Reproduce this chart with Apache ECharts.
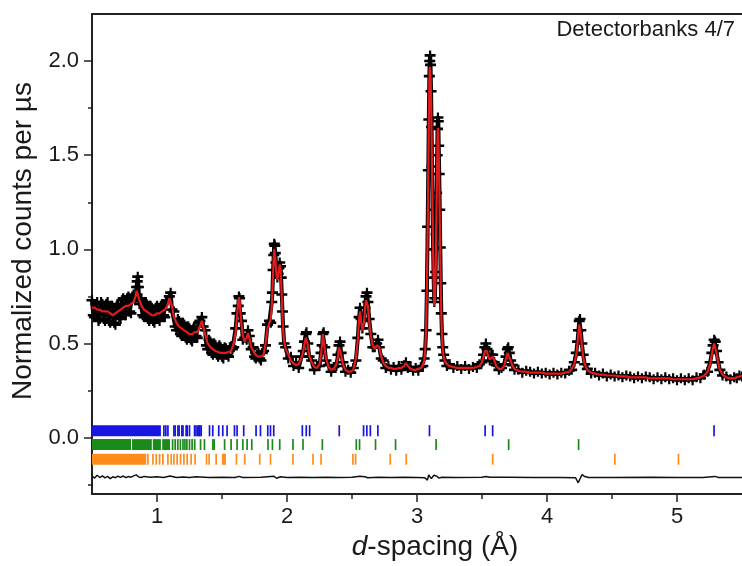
<!DOCTYPE html>
<html><head><meta charset="utf-8">
<script src="https://cdn.jsdelivr.net/npm/echarts@6/dist/echarts.min.js"></script>
<style>html,body{margin:0;padding:0;background:#fff}#c{width:742px;height:566px}</style>
</head><body><div id="c"></div><script>
// ---- data ----
const dSpacing = [0.50,0.52,0.54,0.56,0.58,0.60,0.62,0.64,0.66,0.68,
0.70,0.72,0.74,0.76,0.78,0.80,0.82,0.835,0.843,0.848,
0.852,0.857,0.865,0.88,0.90,0.92,0.94,0.96,0.98,1.00,
1.02,1.04,1.06,1.08,1.095,1.105,1.115,1.13,1.15,1.17,
1.19,1.21,1.23,1.25,1.27,1.29,1.31,1.33,1.345,1.355,
1.37,1.39,1.41,1.43,1.45,1.47,1.49,1.51,1.53,1.55,
1.57,1.59,1.605,1.615,1.625,1.630,1.635,1.64,1.65,1.66,
1.675,1.69,1.70,1.71,1.725,1.74,1.76,1.78,1.80,1.82,
1.835,1.85,1.865,1.875,1.883,1.888,1.893,1.898,1.902,1.906,
1.910,1.915,1.920,1.926,1.932,1.938,1.944,1.950,1.955,1.960,
1.965,1.970,1.978,1.99,2.01,2.03,2.05,2.07,2.09,2.11,
2.125,2.135,2.145,2.150,2.16,2.17,2.19,2.21,2.23,2.25,
2.262,2.27,2.276,2.282,2.29,2.30,2.32,2.34,2.36,2.38,
2.392,2.400,2.408,2.416,2.43,2.45,2.47,2.49,2.51,2.53,
2.545,2.555,2.562,2.570,2.580,2.592,2.600,2.608,2.615,2.622,
2.632,2.645,2.66,2.675,2.69,2.70,2.71,2.725,2.74,2.76,
2.78,2.80,2.82,2.84,2.86,2.88,2.90,2.915,2.93,2.95,
2.97,2.99,3.01,3.03,3.045,3.055,3.063,3.070,3.076,3.082,
3.087,3.091,3.095,3.098,3.101,3.104,3.108,3.112,3.116,3.120,
3.124,3.128,3.133,3.138,3.143,3.147,3.151,3.155,3.158,3.161,
3.164,3.167,3.171,3.175,3.179,3.183,3.187,3.192,3.198,3.205,
3.215,3.23,3.25,3.28,3.31,3.34,3.37,3.40,3.43,3.46,
3.48,3.50,3.512,3.522,3.530,3.538,3.548,3.56,3.572,3.582,
3.594,3.61,3.63,3.65,3.67,3.685,3.695,3.702,3.71,3.72,
3.735,3.75,3.78,3.81,3.84,3.87,3.90,3.93,3.96,3.99,
4.02,4.05,4.08,4.11,4.14,4.17,4.19,4.21,4.225,4.235,
4.242,4.248,4.254,4.260,4.268,4.278,4.29,4.31,4.34,4.37,
4.40,4.43,4.46,4.49,4.52,4.55,4.58,4.61,4.64,4.67,
4.70,4.73,4.76,4.79,4.82,4.85,4.88,4.91,4.94,4.97,
5.00,5.03,5.06,5.09,5.12,5.15,5.18,5.21,5.235,5.255,
5.268,5.278,5.286,5.294,5.304,5.316,5.33,5.35,5.38,5.41,
5.44,5.46,5.48,5.50];

const calculated = [0.69,0.69,0.68,0.68,0.67,0.67,0.67,0.66,0.65,0.66,
0.67,0.68,0.69,0.70,0.70,0.71,0.72,0.75,0.78,0.79,
0.79,0.77,0.73,0.70,0.68,0.67,0.66,0.65,0.65,0.66,
0.66,0.67,0.68,0.70,0.74,0.74,0.70,0.64,0.61,0.59,
0.58,0.57,0.56,0.55,0.55,0.56,0.56,0.59,0.62,0.61,
0.55,0.50,0.48,0.47,0.46,0.455,0.45,0.45,0.45,0.455,
0.46,0.50,0.56,0.64,0.72,0.745,0.73,0.68,0.60,0.54,
0.51,0.53,0.555,0.53,0.48,0.46,0.44,0.43,0.43,0.44,
0.50,0.58,0.61,0.63,0.70,0.78,0.87,0.96,1.00,0.99,
0.95,0.90,0.86,0.84,0.85,0.89,0.92,0.90,0.83,0.74,
0.65,0.57,0.51,0.47,0.44,0.41,0.395,0.385,0.39,0.42,
0.46,0.50,0.53,0.53,0.49,0.44,0.40,0.375,0.37,0.39,
0.44,0.50,0.55,0.54,0.47,0.42,0.375,0.36,0.365,0.39,
0.43,0.48,0.48,0.44,0.39,0.36,0.35,0.35,0.36,0.42,
0.52,0.63,0.67,0.62,0.57,0.61,0.68,0.73,0.74,0.70,
0.62,0.54,0.49,0.47,0.49,0.50,0.48,0.43,0.40,0.38,
0.37,0.37,0.365,0.365,0.37,0.37,0.38,0.395,0.38,0.365,
0.36,0.36,0.365,0.37,0.385,0.41,0.46,0.58,0.80,1.10,
1.40,1.66,1.88,1.97,1.98,1.92,1.80,1.62,1.40,1.18,
0.98,0.82,0.70,0.72,0.86,1.05,1.27,1.47,1.60,1.645,
1.62,1.52,1.36,1.18,0.98,0.80,0.65,0.54,0.47,0.43,
0.405,0.39,0.38,0.375,0.37,0.37,0.37,0.37,0.37,0.375,
0.38,0.40,0.43,0.46,0.47,0.46,0.43,0.415,0.425,0.43,
0.41,0.38,0.365,0.365,0.38,0.42,0.45,0.455,0.44,0.41,
0.38,0.365,0.355,0.35,0.35,0.345,0.345,0.345,0.345,0.34,
0.34,0.34,0.34,0.34,0.345,0.35,0.365,0.39,0.44,0.50,
0.56,0.60,0.59,0.55,0.49,0.43,0.39,0.36,0.345,0.34,
0.335,0.335,0.33,0.33,0.33,0.325,0.325,0.325,0.32,0.32,
0.32,0.32,0.32,0.315,0.315,0.315,0.315,0.315,0.315,0.31,
0.31,0.31,0.31,0.31,0.31,0.315,0.32,0.33,0.35,0.39,
0.44,0.48,0.50,0.49,0.45,0.40,0.36,0.335,0.32,0.315,
0.315,0.32,0.325,0.33];

const observed = [0.73,0.64,0.72,0.63,0.71,0.62,0.72,0.61,0.69,0.60,
0.71,0.63,0.74,0.65,0.75,0.66,0.76,0.73,0.80,0.83,
0.855,0.80,0.71,0.74,0.64,0.71,0.62,0.69,0.61,0.70,
0.62,0.71,0.64,0.73,0.75,0.77,0.68,0.67,0.57,0.62,
0.54,0.60,0.52,0.58,0.51,0.59,0.53,0.62,0.64,0.59,
0.57,0.47,0.51,0.44,0.49,0.43,0.48,0.42,0.475,0.43,
0.485,0.48,0.58,0.66,0.70,0.75,0.74,0.66,0.62,0.52,
0.53,0.52,0.57,0.54,0.47,0.48,0.42,0.45,0.41,0.46,
0.49,0.60,0.62,0.61,0.72,0.77,0.89,0.97,1.03,1.02,
0.98,0.93,0.88,0.85,0.87,0.90,0.93,0.91,0.85,0.76,
0.67,0.59,0.50,0.48,0.42,0.43,0.38,0.40,0.37,0.43,
0.46,0.51,0.55,0.56,0.50,0.43,0.41,0.36,0.38,0.38,
0.45,0.49,0.55,0.56,0.48,0.41,0.385,0.35,0.375,0.38,
0.44,0.49,0.51,0.45,0.40,0.35,0.36,0.345,0.37,0.41,
0.53,0.64,0.69,0.63,0.58,0.62,0.69,0.75,0.77,0.72,
0.63,0.55,0.48,0.48,0.50,0.52,0.48,0.42,0.41,0.37,
0.38,0.36,0.375,0.355,0.38,0.36,0.385,0.40,0.37,0.375,
0.355,0.37,0.355,0.375,0.38,0.42,0.47,0.57,0.78,1.12,
1.42,1.69,1.92,2.00,2.03,1.98,1.84,1.65,1.44,1.21,
1.00,0.85,0.72,0.74,0.88,1.08,1.30,1.50,1.64,1.70,
1.68,1.55,1.40,1.21,1.01,0.82,0.66,0.55,0.48,0.44,
0.41,0.38,0.39,0.37,0.38,0.365,0.38,0.365,0.375,0.37,
0.39,0.40,0.44,0.48,0.50,0.47,0.44,0.41,0.44,0.44,
0.40,0.385,0.36,0.37,0.39,0.43,0.47,0.48,0.45,0.41,
0.385,0.36,0.36,0.345,0.355,0.35,0.34,0.35,0.34,0.345,
0.335,0.345,0.335,0.345,0.34,0.355,0.36,0.40,0.45,0.51,
0.57,0.62,0.63,0.57,0.50,0.44,0.39,0.365,0.34,0.345,
0.33,0.34,0.325,0.335,0.325,0.33,0.32,0.33,0.325,0.315,
0.325,0.315,0.325,0.32,0.31,0.32,0.31,0.32,0.31,0.315,
0.305,0.315,0.305,0.315,0.305,0.32,0.315,0.335,0.35,0.40,
0.45,0.49,0.52,0.51,0.46,0.40,0.36,0.33,0.325,0.31,
0.32,0.315,0.33,0.325];

// further observed points in the noisy low-d part
const observedExtraD = [0.51,0.53,0.55,0.57,0.59,0.61,0.63,0.65,0.67,0.69,
0.71,0.73,0.75,0.77,0.79,0.81,0.87,0.89,0.91,0.93,
0.95,0.97,0.99,1.01,1.03,1.05,1.07,1.14,1.16,1.18,
1.20,1.22,1.24,1.26,1.28,1.30,1.32,1.38,1.40,1.42,
1.44,1.46,1.48,1.50,1.52,1.54,1.56,1.58,1.75,1.77,
1.79,1.81];
const observedExtra = [0.65,0.71,0.62,0.72,0.63,0.71,0.62,0.70,0.61,0.70,
0.64,0.73,0.66,0.74,0.67,0.75,0.73,0.65,0.72,0.63,
0.70,0.62,0.69,0.63,0.70,0.65,0.72,0.59,0.63,0.55,
0.61,0.53,0.59,0.52,0.58,0.54,0.61,0.49,0.52,0.45,
0.50,0.44,0.49,0.43,0.48,0.44,0.48,0.47,0.43,0.44,
0.42,0.45];

// difference curve (plotted with its offset, as in the figure)
const diffD = [0.50,0.52,0.54,0.56,0.58,0.60,0.62,0.64,0.66,0.68,0.70,0.72,0.74,0.76,0.78,0.80,0.82,0.84,0.86,0.88,0.90,0.95,1.00,1.05,1.10,1.15,1.20,1.25,1.30,1.40,1.50,1.60,1.63,1.66,1.80,1.90,1.92,1.95,2.00,2.10,2.20,2.30,2.40,2.50,2.56,2.60,2.62,2.70,2.80,2.90,3.00,3.06,3.08,3.09,3.11,3.13,3.15,3.17,3.19,3.30,3.50,3.53,3.56,3.70,3.90,4.10,4.22,4.24,4.25,4.27,4.29,4.32,4.50,4.80,5.00,5.20,5.29,5.32,5.50];
const diffV = [-0.205,-0.215,-0.200,-0.212,-0.203,-0.214,-0.206,-0.218,-0.208,-0.213,-0.205,-0.211,-0.204,-0.212,-0.207,-0.210,-0.203,-0.198,-0.209,-0.212,-0.206,-0.211,-0.208,-0.212,-0.204,-0.212,-0.209,-0.212,-0.208,-0.212,-0.210,-0.212,-0.206,-0.212,-0.211,-0.205,-0.216,-0.208,-0.212,-0.211,-0.212,-0.211,-0.212,-0.210,-0.205,-0.208,-0.213,-0.211,-0.212,-0.211,-0.212,-0.213,-0.226,-0.198,-0.218,-0.200,-0.204,-0.215,-0.211,-0.212,-0.211,-0.206,-0.211,-0.210,-0.212,-0.212,-0.213,-0.240,-0.225,-0.196,-0.207,-0.212,-0.212,-0.211,-0.212,-0.212,-0.206,-0.212,-0.212];

// reflection positions (three phases)
const phase1Bands = [[0.5, 1.03]];
const phase1Ticks = [1.053,1.068,1.084,1.130,1.140,1.161,1.170,1.191,1.200,1.224,1.232,1.250,1.289,1.300,1.314,1.322,1.330,1.340,1.404,1.429,1.475,1.506,1.539,1.596,1.616,1.667,1.762,1.796,1.852,1.873,1.898,2.118,2.148,2.174,2.402,2.589,2.614,2.641,2.699,3.096,3.524,3.582,5.285];
const phase2Bands = [[0.5, 0.80],[0.808, 0.96],[0.968, 1.03],[1.04, 1.10]];
const phase2Ticks = [1.12,1.14,1.16,1.18,1.20,1.215,1.23,1.25,1.27,1.29,1.335,1.365,1.43,1.44,1.52,1.57,1.616,1.66,1.693,1.729,1.854,1.888,1.944,2.046,2.123,2.272,2.533,2.558,2.681,2.835,3.147,3.705,4.243];
const phase3Bands = [[0.5, 0.917]];
const phase3Ticks = [0.930,0.969,0.994,1.020,1.045,1.084,1.109,1.130,1.155,1.181,1.207,1.232,1.263,1.293,1.381,1.401,1.455,1.506,1.515,1.524,1.611,1.675,1.790,1.873,2.046,2.200,2.262,2.507,2.528,2.794,2.917,3.582,4.522,5.011];
const phaseRows = [[0.066, 0.007], [-0.008, -0.066], [-0.086, -0.144]];

const xMajor = [1, 2, 3, 4, 5];
const xMinor = [1.5, 2.5, 3.5, 4.5];
const yMajor = [0, 0.5, 1.0, 1.5, 2.0];
const yMinor = [-0.25, 0.25, 0.75, 1.25, 1.75];

// ---- chart ----
const FONT = '"Liberation Sans", Arial, Helvetica, sans-serif';
const INK = '#1a1a1a';
const chart = echarts.init(document.getElementById('c'), null, {renderer: 'canvas'});
const n = Math.min(dSpacing.length, observed.length, calculated.length);
const obsData = [], calcData = [];
for (let i = 0; i < n; i++) { obsData.push([dSpacing[i], observed[i]]); calcData.push([dSpacing[i], calculated[i]]); }
for (let i = 0; i < Math.min(observedExtraD.length, observedExtra.length); i++) obsData.push([observedExtraD[i], observedExtra[i]]);
obsData.sort((a, b) => a[0] - b[0]);
const diffData = diffD.map((d, i) => [d, diffV[i]]);
const CROSS = 'path://M0,3.7H10V6.3H0Z M4,0H6V10H4Z';

function reflectionSeries(bands, ticks, row, color) {
  const top = row[0], bottom = row[1];
  const data = bands.map(b => [b[0], b[1], top]).concat(ticks.map(t => [t, t, top]));
  return {
    type: 'custom', silent: true, clip: true, z: 4, data,
    encode: {x: [0, 1], y: 2},
    renderItem: (params, api) => {
      const a = api.coord([api.value(0), top]);
      const b = api.coord([api.value(1), bottom]);
      let x = a[0], w = b[0] - a[0];
      if (w < 1.7) { x = a[0] - 0.85; w = 1.7; }
      return {type: 'rect', shape: {x, y: a[1], width: w, height: b[1] - a[1]}, style: {fill: color}};
    }
  };
}

const axisLineStyle = {color: '#222', width: 2};
const tickStyle = {color: '#222', width: 1.5};

chart.setOption({
  animation: false,
  backgroundColor: '#fff',
  grid: {left: 92, top: 14, width: 651, height: 484, containLabel: false},
  xAxis: [
    {type: 'value', min: 0.5, max: 5.5, position: 'bottom',
     axisLine: {show: true, onZero: false, lineStyle: axisLineStyle},
     axisTick: {show: true, length: 8, customValues: xMajor, lineStyle: tickStyle},
     axisLabel: {customValues: xMajor, formatter: v => String(v), fontSize: 22, color: INK, fontFamily: FONT, margin: 12},
     splitLine: {show: false},
     name: '{i|d}-spacing (Å)', nameLocation: 'middle', nameGap: 36,
     nameTextStyle: {fontSize: 28, color: INK, fontFamily: FONT, padding: [0, 0, 0, 36],
       rich: {i: {fontStyle: 'italic', fontSize: 28, color: INK, fontFamily: FONT}}}},
    {type: 'value', min: 0.5, max: 5.5, position: 'bottom',
     axisLine: {show: false, onZero: false}, axisTick: {show: true, length: 5, customValues: xMinor, lineStyle: tickStyle},
     axisLabel: {show: false}, splitLine: {show: false}},
    {type: 'value', min: 0.5, max: 5.5, position: 'top',
     axisLine: {show: true, onZero: false, lineStyle: axisLineStyle}, axisTick: {show: false},
     axisLabel: {show: false}, splitLine: {show: false}}
  ],
  yAxis: [
    {type: 'value', min: -0.3, max: 2.25, position: 'left',
     axisLine: {show: true, onZero: false, lineStyle: axisLineStyle},
     axisTick: {show: true, length: 8, customValues: yMajor, lineStyle: tickStyle},
     axisLabel: {customValues: yMajor, formatter: v => v.toFixed(1), fontSize: 22, color: INK, fontFamily: FONT, margin: 13},
     splitLine: {show: false},
     name: 'Normalized counts per µs', nameLocation: 'middle', nameGap: 52,
     nameTextStyle: {fontSize: 28, color: INK, fontFamily: FONT, padding: [0, 0, 0, 26]}},
    {type: 'value', min: -0.3, max: 2.25, position: 'left',
     axisLine: {show: false, onZero: false}, axisTick: {show: true, length: 4, customValues: yMinor, lineStyle: tickStyle},
     axisLabel: {show: false}, splitLine: {show: false}}
  ],
  graphic: [{type: 'text', right: 7, top: 19,
    style: {text: 'Detectorbanks 4/7', fontSize: 22, fontFamily: FONT, fill: INK}}],
  series: [
    {name: 'observed', type: 'line', data: obsData, silent: true, z: 2, clip: true,
     symbol: CROSS, symbolSize: [11, 10], showSymbol: true, showAllSymbol: true,
     itemStyle: {color: '#000'}, lineStyle: {color: '#000', width: 4, join: 'round', cap: 'round'}},
    {name: 'calculated', type: 'line', data: calcData, silent: true, z: 3, clip: true,
     showSymbol: false, lineStyle: {color: '#e31a1c', width: 2.2}},
    {name: 'difference', type: 'line', data: diffData, silent: true, z: 3, clip: true,
     showSymbol: false, lineStyle: {color: '#111', width: 1.5}},
    reflectionSeries(phase1Bands, phase1Ticks, phaseRows[0], '#1616e0'),
    reflectionSeries(phase2Bands, phase2Ticks, phaseRows[1], '#1a8a1a'),
    reflectionSeries(phase3Bands, phase3Ticks, phaseRows[2], '#ff8c1a')
  ]
});
</script></body></html>
